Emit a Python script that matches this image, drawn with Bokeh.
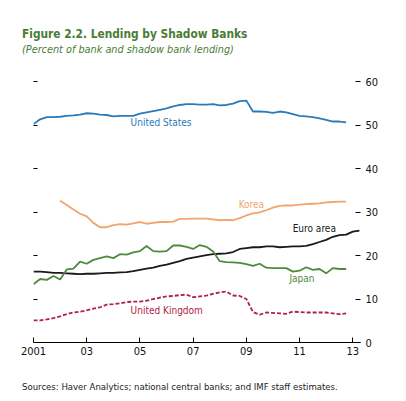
from bokeh.plotting import figure
from bokeh.models import LinearAxis, FixedTicker, Label, Div
from bokeh.layouts import column
from bokeh.embed import file_html
from bokeh.resources import INLINE

# quarterly observations, 2001Q1 onward
start_year = 2001.0
united_states = [50.2, 51.3, 51.8, 51.8, 51.9, 52.1, 52.2, 52.4, 52.7, 52.6, 52.4, 52.3,
                 52.0, 52.1, 52.1, 52.1, 52.6, 52.9, 53.2, 53.5, 53.8, 54.3, 54.6, 54.8,
                 54.8, 54.7, 54.7, 54.8, 54.5, 54.6, 54.9, 55.5, 55.6, 53.1, 53.1, 53.0,
                 52.8, 53.1, 52.9, 52.5, 52.1, 52.0, 51.8, 51.5, 51.2, 50.8, 50.8, 50.6]
euro_area = [16.3, 16.3, 16.2, 16.0, 16.0, 15.9, 15.8, 15.7, 15.8, 15.8, 15.9, 16.0,
             16.0, 16.1, 16.2, 16.4, 16.7, 17.0, 17.2, 17.6, 17.9, 18.3, 18.7, 19.2,
             19.5, 19.8, 20.1, 20.3, 20.4, 20.5, 20.8, 21.5, 21.7, 21.9, 21.9, 22.1,
             22.1, 21.9, 22.0, 22.1, 22.1, 22.2, 22.6, 23.1, 23.6, 24.3, 24.7, 24.8,
             25.5, 25.7]
japan = [13.4, 14.6, 14.4, 15.3, 14.5, 16.8, 17.0, 18.6, 18.1, 19.0, 19.4, 19.8,
         19.4, 20.3, 20.2, 20.7, 21.0, 22.2, 21.0, 20.9, 21.0, 22.3, 22.3, 22.0,
         21.5, 22.4, 22.0, 20.9, 18.7, 18.5, 18.4, 18.3, 18.0, 17.6, 18.1, 17.2,
         17.1, 17.1, 17.1, 16.3, 16.5, 17.3, 16.7, 16.9, 15.9, 17.1, 16.9, 16.9]
united_kingdom = [5.1, 5.1, 5.3, 5.6, 6.0, 6.5, 6.9, 7.1, 7.4, 7.8, 8.1, 8.7,
                  8.8, 9.0, 9.3, 9.4, 9.4, 9.6, 10.0, 10.3, 10.6, 10.7, 10.9, 11.0,
                  10.4, 10.6, 10.8, 11.2, 11.5, 11.7, 10.8, 10.7, 10.0, 7.0, 6.4, 6.9,
                  6.8, 6.7, 6.6, 7.1, 7.0, 6.9, 6.9, 6.9, 6.9, 6.7, 6.5, 6.7]
# Korea starts in 2002Q1
korea_start = 2002.0
korea = [32.6, 31.6, 30.6, 29.6, 29.0, 27.5, 26.5, 26.5, 27.0, 27.2, 27.1, 27.4,
         27.7, 27.3, 27.5, 27.7, 27.7, 27.8, 28.4, 28.4, 28.5, 28.5, 28.5, 28.3,
         28.1, 28.2, 28.1, 28.6, 29.2, 29.7, 29.9, 30.4, 31.0, 31.4, 31.5, 31.5,
         31.7, 31.8, 31.9, 32.0, 32.2, 32.3, 32.4, 32.4]

x_ticks = [2001, 2003, 2005, 2007, 2009, 2011, 2013]
x_tick_labels = ["2001", "03", "05", "07", "09", "11", "13"]
y_ticks = [0, 10, 20, 30, 40, 50, 60]

title = "Figure 2.2. Lending by Shadow Banks"
subtitle = "(Percent of bank and shadow bank lending)"
source_note = "Sources: Haver Analytics; national central banks; and IMF staff estimates."

FONT = "DejaVu Sans Condensed, Roboto, sans-serif"
CSS_FONT = "'DejaVu Sans Condensed', Roboto, sans-serif"
GREEN_TITLE = "#4a7c35"


def quarters(first, n):
    return [first + 0.25 * i for i in range(n)]


header = Div(
    width=400, height=60, margin=0,
    text=(
        '<div style="position:relative;width:400px;height:60px;">'
        f'<div style="position:absolute;left:22px;top:26px;line-height:16px;white-space:nowrap;'
        f'font-family:{CSS_FONT};font-weight:bold;font-size:11.8px;color:{GREEN_TITLE};">{title}</div>'
        f'<div style="position:absolute;left:22px;top:42px;line-height:16px;white-space:nowrap;'
        f'font-family:{CSS_FONT};font-style:italic;font-size:10.8px;color:{GREEN_TITLE};">{subtitle}</div>'
        '</div>'
    ),
)

p = figure(
    width=400,
    height=303,
    x_range=(2001, 2013.29),
    y_range=(0, 60),
    y_axis_location="right",
    output_backend="svg",
    toolbar_location=None,
    min_border_left=33,
    min_border_right=40,
    min_border_top=21,
    min_border_bottom=21,
    background_fill_color="white",
    border_fill_color="white",
    outline_line_color=None,
    margin=0,
)
p.grid.visible = False

# bottom axis
xa = p.xaxis[0]
xa.ticker = FixedTicker(ticks=x_ticks)
xa.major_label_overrides = {t: s for t, s in zip(x_ticks, x_tick_labels)}
xa.major_tick_in = 5
xa.major_tick_out = 0
xa.minor_tick_line_color = None
xa.axis_line_color = "black"
xa.major_label_standoff = 4
xa.major_label_text_font = FONT
xa.major_label_text_font_size = "11px"
xa.major_label_text_color = "#111111"

# right axis
ya = p.yaxis[0]
ya.ticker = FixedTicker(ticks=y_ticks)
ya.major_tick_in = 5
ya.major_tick_out = 0
ya.minor_tick_line_color = None
ya.axis_line_color = None
ya.major_label_standoff = 5
ya.major_label_text_font = FONT
ya.major_label_text_font_size = "11px"
ya.major_label_text_color = "#111111"

# left axis: ticks only
la = LinearAxis(ticker=FixedTicker(ticks=y_ticks[1:]))
la.major_tick_in = 4
la.major_tick_out = 0
la.minor_tick_line_color = None
la.axis_line_color = None
la.major_label_overrides = {t: "" for t in y_ticks[1:]}
la.major_label_standoff = 0
p.add_layout(la, "left")

series = [
    (united_states, start_year, "#2b7bba", None),
    (korea, korea_start, "#f2a46c", None),
    (euro_area, start_year, "#1a1a1a", None),
    (japan, start_year, "#4e8a3e", None),
    (united_kingdom, start_year, "#b02244", "4 2"),
]
for vals, first, color, dash in series:
    kw = {"line_dash": dash} if dash else {}
    p.line(quarters(first, len(vals)), vals, line_color=color, line_width=1.8, **kw)

labels = [
    ("United States", 2004.65, 50.5, "#2b7bba"),
    ("Korea", 2008.71, 31.8, "#f2a46c"),
    ("Euro area", 2010.74, 26.1, "#1a1a1a"),
    ("Japan", 2010.62, 14.8, "#4e8a3e"),
    ("United Kingdom", 2004.65, 7.3, "#b02244"),
]
for text, lx, ly, color in labels:
    p.add_layout(Label(x=lx, y=ly, text=text, text_color=color, text_font=FONT,
                       text_font_size="10px", text_baseline="middle", text_align="left"))

footer = Div(
    width=400, height=32, margin=0,
    text=(
        '<div style="position:relative;width:400px;height:32px;">'
        f'<div style="position:absolute;left:22px;top:17px;line-height:14px;white-space:nowrap;'
        f'font-family:{CSS_FONT};font-size:9.5px;color:#222222;">{source_note}</div>'
        '</div>'
    ),
)

layout = column(header, p, footer, spacing=0)
open("out.html", "w").write(file_html(layout, INLINE))
